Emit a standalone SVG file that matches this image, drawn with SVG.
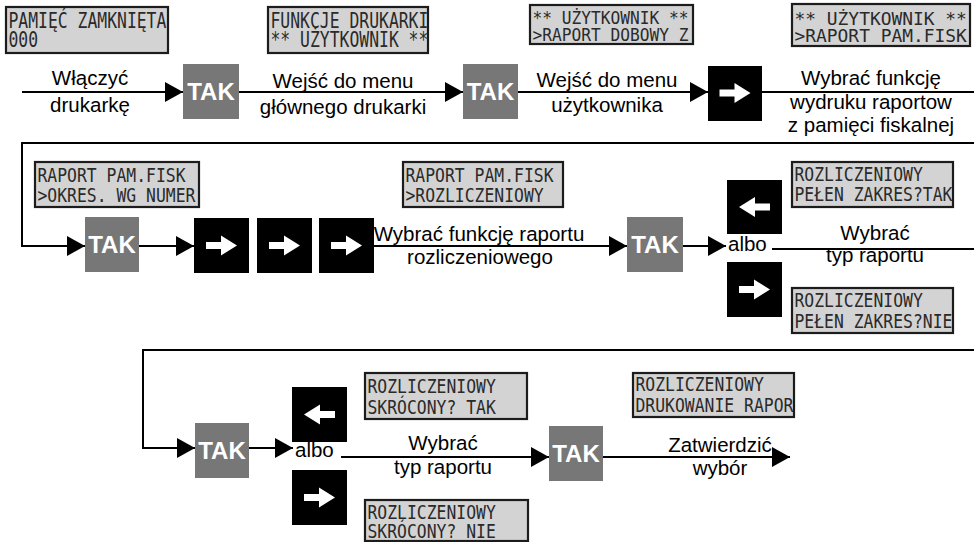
<svg xmlns="http://www.w3.org/2000/svg" width="974" height="542" viewBox="0 0 974 542">
<defs>
<style>
.lcd rect{fill:#d3d3d3;stroke:#1c1c1c;stroke-width:2.2}
.lcd text{font-family:"DejaVu Sans Mono","Liberation Mono",monospace;fill:#2a2a2a}
.big text{font-size:16.4px}
.s3 text{font-size:16.2px}
.s4 text{font-size:17.9px}
.tak rect{fill:#777777}
.tak text{font-family:"Liberation Sans",Arial,sans-serif;font-weight:bold;font-size:24px;fill:#ffffff;text-anchor:middle}
.key rect{fill:#000000}
.key use{fill:#ffffff}
.lbl{font-family:"Liberation Sans",Arial,sans-serif;font-size:20.5px;fill:#000000;text-anchor:middle}
.lbl-l{font-family:"Liberation Sans",Arial,sans-serif;font-size:20.5px;fill:#000000}
.conn path{fill:none;stroke:#000000;stroke-width:2}
</style>
<marker id="ah" markerUnits="userSpaceOnUse" markerWidth="18" markerHeight="20" refX="18" refY="10" orient="auto">
<path d="M0,0 L18,10 L0,20 Z" fill="#000000"/>
</marker>
<polygon id="arr-r" points="-15.5,-3.5 -0.5,-3.5 -0.5,-10 15.5,0 -0.5,10 -0.5,3.5 -15.5,3.5"/>
<polygon id="arr-l" points="15.5,-3.5 0.5,-3.5 0.5,-10 -15.5,0 0.5,10 0.5,3.5 15.5,3.5"/>
</defs>

<g id="connectors" class="conn">
<path d="M22,92 H183" marker-end="url(#ah)"/>
<path d="M239,92 H463" marker-end="url(#ah)"/>
<path d="M517,92 H708" marker-end="url(#ah)"/>
<path d="M762,92 H974"/>
<path d="M974,143 H22 V246 H85" marker-end="url(#ah)"/>
<path d="M139,246 H194" marker-end="url(#ah)"/>
<path d="M374,246 H627" marker-end="url(#ah)"/>
<path d="M683,246 H726" marker-end="url(#ah)"/>
<path d="M772,249 H974"/>
<path d="M974,350 H143 V448 H195" marker-end="url(#ah)"/>
<path d="M249,448 H293" marker-end="url(#ah)"/>
<path d="M341,457 H549" marker-end="url(#ah)"/>
<path d="M603,457 H790" marker-end="url(#ah)"/>
</g>

<g id="labels">
<text class="lbl" x="90" y="85">Włączyć</text>
<text class="lbl" x="90" y="112">drukarkę</text>
<text class="lbl" x="343" y="88">Wejść do menu</text>
<text class="lbl" x="343" y="114">głównego drukarki</text>
<text class="lbl" x="607" y="87">Wejść do menu</text>
<text class="lbl" x="607" y="112">użytkownika</text>
<text class="lbl" x="871" y="85">Wybrać funkcję</text>
<text class="lbl" x="871" y="109">wydruku raportow</text>
<text class="lbl" x="871" y="132">z pamięci fiskalnej</text>
<text class="lbl" x="479" y="241">Wybrać funkcję raportu</text>
<text class="lbl" x="480" y="264">rozliczeniowego</text>
<text class="lbl-l" x="728" y="251">albo</text>
<text class="lbl" x="875" y="240">Wybrać</text>
<text class="lbl" x="875" y="262">typ raportu</text>
<text class="lbl-l" x="295" y="457">albo</text>
<text class="lbl" x="443" y="450">Wybrać</text>
<text class="lbl" x="443" y="474">typ raportu</text>
<text class="lbl" x="720" y="452">Zatwierdzić</text>
<text class="lbl" x="720" y="475">wybór</text>
</g>

<g id="lcd1" class="lcd big"><rect x="6" y="7" width="162" height="46"/>
<text transform="translate(8.5,28) scale(1,1.25)">PAMIĘĆ ZAMKNIĘTA</text>
<text transform="translate(8.5,47) scale(1,1.25)">000</text></g>
<g id="lcd2" class="lcd big"><rect x="268" y="7" width="160" height="46"/>
<text transform="translate(270.5,28) scale(1,1.25)">FUNKCJE DRUKARKI</text>
<text transform="translate(270.5,47) scale(1,1.25)">** UŻYTKOWNIK **</text></g>
<g id="lcd3" class="lcd s3"><rect x="530" y="5" width="163" height="39"/>
<text transform="translate(532.5,24) scale(1,1.05)">** UŻYTKOWNIK **</text>
<text transform="translate(532.5,41) scale(1,1.05)">&gt;RAPORT DOBOWY Z</text></g>
<g id="lcd4" class="lcd s4"><rect x="792" y="4" width="178" height="42"/>
<text transform="translate(794.5,25) scale(1,1)">** UŻYTKOWNIK **</text>
<text transform="translate(794.5,42) scale(1,1)">&gt;RAPORT PAM.FISK</text></g>

<g id="lcd5" class="lcd big"><rect x="35" y="162" width="164" height="45"/>
<text transform="translate(37.5,182) scale(1,1.2)">RAPORT PAM.FISK</text>
<text transform="translate(37.5,202) scale(1,1.2)">&gt;OKRES. WG NUMER</text></g>
<g id="lcd6" class="lcd big"><rect x="403" y="162" width="160" height="45"/>
<text transform="translate(405.5,182) scale(1,1.2)">RAPORT PAM.FISK</text>
<text transform="translate(405.5,202) scale(1,1.2)">&gt;ROZLICZENIOWY</text></g>
<g id="lcd7" class="lcd big"><rect x="792" y="162" width="161" height="45"/>
<text transform="translate(794.5,181) scale(1,1.2)">ROZLICZENIOWY</text>
<text transform="translate(794.5,201) scale(1,1.2)">PEŁEN ZAKRES?TAK</text></g>
<g id="lcd8" class="lcd big"><rect x="792" y="288" width="161" height="45"/>
<text transform="translate(794.5,307) scale(1,1.2)">ROZLICZENIOWY</text>
<text transform="translate(794.5,328) scale(1,1.2)">PEŁEN ZAKRES?NIE</text></g>

<g id="lcd9" class="lcd big"><rect x="365" y="373" width="162" height="46"/>
<text transform="translate(367.5,393) scale(1,1.2)">ROZLICZENIOWY</text>
<text transform="translate(367.5,414) scale(1,1.2)">SKRÓCONY? TAK</text></g>
<g id="lcd10" class="lcd big"><rect x="365" y="500" width="163" height="41"/>
<text transform="translate(367.5,519) scale(1,1.2)">ROZLICZENIOWY</text>
<text transform="translate(367.5,538) scale(1,1.2)">SKRÓCONY? NIE</text></g>
<g id="lcd11" class="lcd big"><rect x="633" y="373" width="161" height="44"/>
<text transform="translate(635.5,391) scale(1,1.2)">ROZLICZENIOWY</text>
<text transform="translate(635.5,412) scale(1,1.2)">DRUKOWANIE RAPOR</text></g>

<g id="tak1" class="tak"><rect x="183" y="64" width="56" height="55"/><text x="211" y="100">TAK</text></g>
<g id="tak2" class="tak"><rect x="463" y="64" width="55" height="55"/><text x="490.5" y="100">TAK</text></g>
<g id="tak3" class="tak"><rect x="85" y="217" width="54" height="55"/><text x="112" y="253">TAK</text></g>
<g id="tak4" class="tak"><rect x="627" y="217" width="56" height="55"/><text x="655" y="253">TAK</text></g>
<g id="tak5" class="tak"><rect x="195" y="423" width="54" height="55"/><text x="222" y="459">TAK</text></g>
<g id="tak6" class="tak"><rect x="549" y="426" width="54" height="55"/><text x="576" y="462">TAK</text></g>

<g id="key1" class="key"><rect x="708" y="66" width="54" height="55"/><use href="#arr-r" x="735" y="93"/></g>
<g id="key2" class="key"><rect x="194" y="218" width="55" height="55"/><use href="#arr-r" x="221.5" y="245.5"/></g>
<g id="key3" class="key"><rect x="257" y="218" width="55" height="55"/><use href="#arr-r" x="284.5" y="245.5"/></g>
<g id="key4" class="key"><rect x="319" y="218" width="55" height="55"/><use href="#arr-r" x="346.5" y="245.5"/></g>
<g id="key5" class="key"><rect x="727" y="180" width="55" height="54"/><use href="#arr-l" x="754.5" y="207"/></g>
<g id="key6" class="key"><rect x="727" y="262" width="55" height="55"/><use href="#arr-r" x="754.5" y="289.5"/></g>
<g id="key7" class="key"><rect x="292" y="387" width="55" height="55"/><use href="#arr-l" x="319.5" y="414.5"/></g>
<g id="key8" class="key"><rect x="292" y="470" width="55" height="55"/><use href="#arr-r" x="319.5" y="497.5"/></g>
</svg>
